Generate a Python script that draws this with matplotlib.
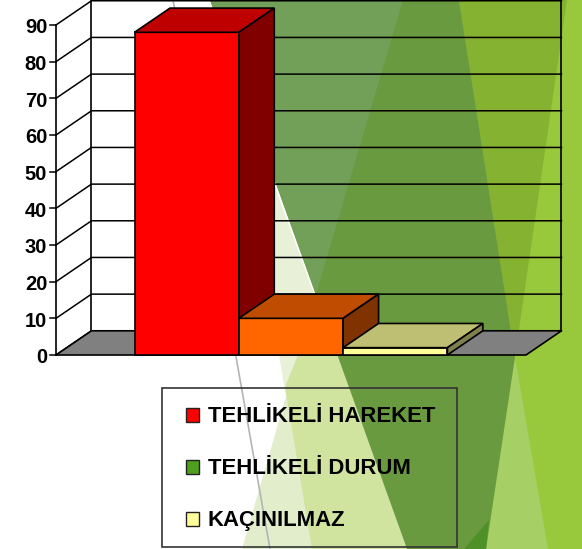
import matplotlib
matplotlib.use("Agg")
import matplotlib.pyplot as plt
from matplotlib.patches import Polygon, Patch, Rectangle

plt.rcParams['font.family'] = ['Liberation Sans', 'DejaVu Sans']

categories = ["TEHLİKELİ HAREKET", "TEHLİKELİ DURUM", "KAÇINILMAZ"]
values = [88, 10, 2]
front_colors = ["#FF0000", "#FF6600", "#FFFF99"]
top_colors = ["#BF0000", "#BF4C00", "#BFBF73"]
side_colors = ["#800000", "#803300", "#80804D"]
legend_colors = ["#FF0000", "#4F9F1E", "#FFFF99"]
yticks = [0, 10, 20, 30, 40, 50, 60, 70, 80, 90]

W, H = 582, 549
fig = plt.figure(figsize=(W / 100, H / 100), dpi=100)

# slide background, in pixels
bg = fig.add_axes([0, 0, 1, 1], zorder=0)
bg.set_xlim(0, W)
bg.set_ylim(H, 0)
bg.axis("off")
bg_shapes = [
    ([(440, 0), (582, 0), (582, 549), (440, 549)], "#98C93C"),
    ([(459, 0), (567, 0), (515, 357), (503, 280)], "#85B231"),
    ([(515, 357), (548, 549), (486, 549)], "#A6CF66"),
    ([(268, 168), (407, 549), (312, 549), (279, 355)], "#E8F1D8"),
    ([(298, 355), (338, 355), (407, 549), (242, 549)], "#E1EDCB"),
    ([(298, 355), (338, 355), (407, 549), (312, 549), (285, 387)], "#D0E4A0"),
    ([(210, 0), (459, 0), (503, 280), (515, 357), (486, 549), (407, 549)], "#6A9A40"),
    ([(210, 0), (403, 0), (316, 294)], "#73A058"),
    ([(464, 549), (489, 520), (486, 549)], "#4E9128"),
]
for pts, col in bg_shapes:
    bg.add_patch(Polygon(pts, closed=True, fc=col, ec="none"))
bg.plot([173, 270], [0, 549], color="#B5B5B5", lw=1.2)

# chart, x in categories and y in value units
ax = fig.add_axes([0, 0, 1, 1], zorder=1)
ax.patch.set_alpha(0)
px_x = 104.3
px_y = 3.667
x0 = 134.5
y0 = 355
ax.set_xlim(-x0 / px_x, (W - x0) / px_x)
ax.set_ylim((y0 - H) / px_y, y0 / px_y)
ax.axis("off")

depth_x = 0.34
depth_y = 6.6
floor_l = (56 - x0) / px_x
floor_r = (526 - x0) / px_x
top = yticks[-1]

ax.add_patch(Polygon([(floor_l, 0), (floor_r, 0), (floor_r + depth_x, depth_y), (floor_l + depth_x, depth_y)],
                     closed=True, fc="#808080", ec="black", lw=1.2, zorder=2))
for v in yticks:
    ax.plot([floor_l, floor_l + depth_x, floor_r + depth_x], [v, v + depth_y, v + depth_y],
            color="black", lw=1.1, zorder=1)
    ax.plot([floor_l - 0.055, floor_l], [v, v], color="black", lw=1.1, zorder=1)
    ax.text(floor_l - 0.085, v - 0.25, str(v), ha="right", va="center_baseline", fontsize=14.5, fontweight="bold", color="black")
ax.plot([floor_l, floor_l], [0, top], color="black", lw=1.2, zorder=1)
ax.plot([floor_l + depth_x] * 2, [depth_y, top + depth_y], color="black", lw=1.2, zorder=1)
ax.plot([floor_r + depth_x] * 2, [depth_y, top + depth_y], color="black", lw=1.2, zorder=1)

for i, v in enumerate(values):
    ax.bar(i, v, width=1, align="edge", color=front_colors[i], edgecolor="black", lw=1.2, zorder=3 + i)
    ax.add_patch(Polygon([(i, v), (i + 1, v), (i + 1 + depth_x, v + depth_y), (i + depth_x, v + depth_y)],
                         closed=True, fc=top_colors[i], ec="black", lw=1.2, zorder=3 + i))
    ax.add_patch(Polygon([(i + 1, 0), (i + 1 + depth_x, depth_y), (i + 1 + depth_x, v + depth_y), (i + 1, v)],
                         closed=True, fc=side_colors[i], ec="black", lw=1.2, zorder=3 + i))

# legend box is a fixed size in the reference
fig.add_artist(Rectangle((162 / W, 1 - 547 / H), 294.5 / W, 159 / H, transform=fig.transFigure,
                         fc="none", ec="#333333", lw=1.2, zorder=5))
handles = [Patch(fc=c, ec="#222222", lw=1) for c in legend_colors]
leg = ax.legend(handles, categories, loc="upper left",
                bbox_to_anchor=(186 / W, 1 - 406.5 / H), bbox_transform=fig.transFigure,
                frameon=False, prop={"size": 15.9, "weight": "bold"},
                labelspacing=1.4, borderpad=0, borderaxespad=0,
                handlelength=0.6, handleheight=0.6, handletextpad=0.38)
leg.set_zorder(10)

fig.savefig("out.png", dpi=100)
